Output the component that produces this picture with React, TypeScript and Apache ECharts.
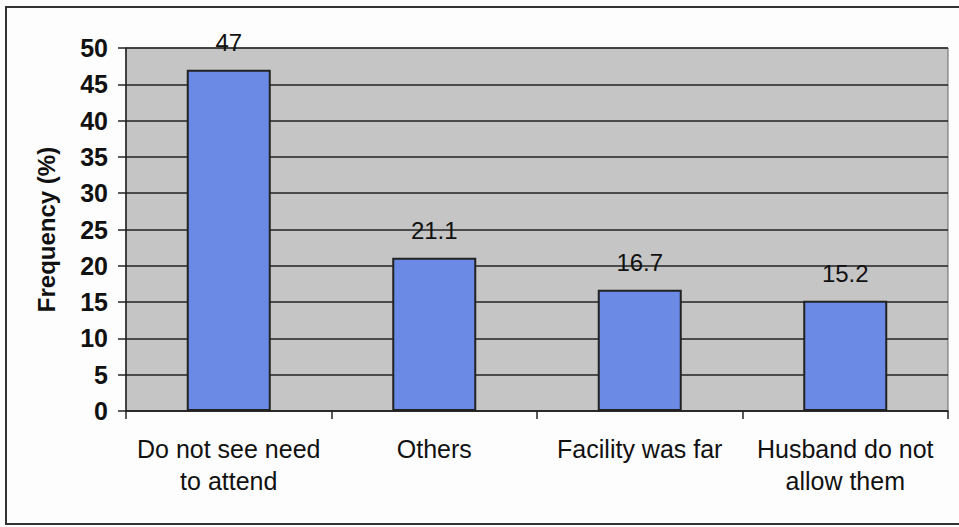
import React, { useEffect, useRef } from "react";
import * as echarts from "echarts";

const categories = ["Do not see need\nto attend", "Others", "Facility was far", "Husband do not\nallow them"];
const values = [47, 21.1, 16.7, 15.2];
const yTicks = { min: 0, max: 50, interval: 5 };
const yAxisName = "Frequency (%)";

export default function App() {
  const ref = useRef<HTMLDivElement>(null);
  useEffect(() => {
    document.body.style.margin = "0";
    const chart = echarts.init(ref.current!, null, { renderer: "svg" });
    const font = "Arial, 'Liberation Sans', sans-serif";
    chart.setOption({
      animation: false,
      backgroundColor: "#fdfdfd",
      grid: {
        left: 126,
        right: 11,
        top: 48,
        bottom: 116,
        show: true,
        backgroundColor: "#c5c5c5",
        borderColor: "#666",
        borderWidth: 1,
      },
      graphic: [
        {
          type: "rect",
          shape: { x: 6, y: 7, width: 970, height: 517 },
          style: { fill: "none", stroke: "#333", lineWidth: 2 },
          silent: true,
        },
      ],
      xAxis: {
        type: "category",
        data: categories,
        axisLine: { show: true, lineStyle: { color: "#222", width: 1.5 } },
        axisTick: { show: true, length: 8, lineStyle: { color: "#222", width: 1.5 } },
        axisLabel: {
          color: "#111",
          fontFamily: font,
          fontSize: 25,
          lineHeight: 32,
          margin: 22,
          interval: 0,
        },
      },
      yAxis: {
        type: "value",
        min: yTicks.min,
        max: yTicks.max,
        interval: yTicks.interval,
        name: yAxisName,
        nameLocation: "middle",
        nameGap: 68,
        nameRotate: 90,
        nameTextStyle: { color: "#111", fontFamily: font, fontSize: 24, fontWeight: "bold" },
        axisLine: { show: true, lineStyle: { color: "#222", width: 1.5 } },
        axisTick: { show: true, length: 8, lineStyle: { color: "#222", width: 1.5 } },
        axisLabel: { color: "#111", fontFamily: font, fontSize: 25, fontWeight: "bold", margin: 18 },
        splitLine: { show: true, lineStyle: { color: "#222", width: 1.5 } },
      },
      series: [
        {
          type: "bar",
          data: values,
          barWidth: 84,
          itemStyle: { color: "#6b8ae6", borderColor: "#222", borderWidth: 2 },
          label: {
            show: true,
            position: "top",
            distance: 15,
            color: "#111",
            fontFamily: font,
            fontSize: 24,
          },
        },
      ],
    });
    return () => chart.dispose();
  }, []);
  return <div ref={ref} style={{ width: 959, height: 527, position: "absolute", left: 0, top: 0 }} />;
}
